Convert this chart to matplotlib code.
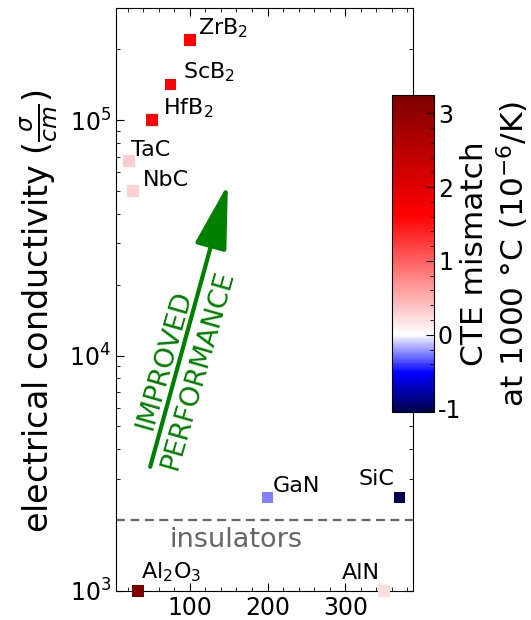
import numpy as np
import matplotlib
matplotlib.use("Agg")
import matplotlib.pyplot as plt
from matplotlib.colors import TwoSlopeNorm, ListedColormap, Normalize
from matplotlib.ticker import MultipleLocator

# materials: x value, electrical conductivity (S/cm), CTE mismatch at 1000 C
names = ["ZrB$_2$", "ScB$_2$", "HfB$_2$", "TaC", "NbC",
         "GaN", "SiC", "Al$_2$O$_3$", "AlN"]
xval = [100, 75, 51, 22, 27, 200, 370, 33, 350]
sigma = [2.2e5, 1.42e5, 1.0e5, 6.7e4, 5.0e4, 2.5e3, 2.5e3, 1.0e3, 1.0e3]
cte = [1.6, 1.6, 1.6, 0.32, 0.28, -0.26, -1.05, 3.24, 0.22]

insulator_limit = 2000

# label offsets in points (dx, dy) and alignment
offsets = [(6, 0), (9, 0), (8, 0), (1, 1), (7, 1), (4, 1), (-4, 6), (2, 5), (-3, 6)]
aligns = ["left"] * 9
aligns[6] = "right"
aligns[8] = "right"

plt.rcParams["font.family"] = "DejaVu Sans"
plt.rcParams["axes.unicode_minus"] = False

fig = plt.figure(figsize=(5.31, 6.2), dpi=100)
ax = fig.add_axes([0.2185, 0.0468, 0.559, 0.9403])

# seismic map with white pinned at zero, but a linear colour scale
vmin, vmax = min(cte), max(cte)
tsn = TwoSlopeNorm(vcenter=0, vmin=vmin, vmax=vmax)
cmap = ListedColormap(plt.cm.seismic(tsn(np.linspace(vmin, vmax, 256))))
norm = Normalize(vmin, vmax)

sc = ax.scatter(xval, sigma, c=cte, cmap=cmap, norm=norm, marker="s",
                s=70, linewidths=0, zorder=3, clip_on=False)

for i, name in enumerate(names):
    ax.annotate(name, (xval[i], sigma[i]), xytext=offsets[i],
                textcoords="offset points", ha=aligns[i], va="bottom",
                fontsize=16)

ax.axhline(insulator_limit, color="0.4", lw=1.6, dashes=(4, 2.5))
ax.text(160, 1650, "insulators", color="0.4", fontsize=19.5,
        ha="center", va="center")

# arrow + text
ax.annotate("", xy=(149, 5.35e4), xytext=(49, 3.37e3),
            arrowprops=dict(arrowstyle="-|>,head_length=2.0,head_width=0.5",
                            mutation_scale=20, lw=3, color="green",
                            shrinkA=0, shrinkB=0))
ax.text(89, 9.1e3, "IMPROVED\nPERFORMANCE", color="green", fontsize=19.5,
        rotation=74, rotation_mode="anchor", ha="center", va="center",
        linespacing=1.45)

ax.set_yscale("log")
ax.set_ylim(1e3, 3e5)
ax.set_xlim(5, 387)
ax.xaxis.set_major_locator(MultipleLocator(100))
ax.xaxis.set_minor_locator(MultipleLocator(20))
ax.tick_params(which="both", direction="in", top=True, right=True,
               labelsize=17)
ax.tick_params(which="major", length=6)
ax.tick_params(which="minor", length=3)
ax.set_ylabel(r"electrical conductivity ($\frac{\sigma}{cm}$)", fontsize=24)
ax.yaxis.set_label_coords(-0.19, 0.48)

cax = fig.add_axes([0.738, 0.335, 0.079, 0.511])
cb = fig.colorbar(sc, cax=cax)
cb.set_ticks([-1, 0, 1, 2, 3])
cb.ax.yaxis.set_minor_locator(MultipleLocator(0.2))
cb.ax.tick_params(which="both", direction="in", labelsize=17, pad=3)
cb.ax.tick_params(which="major", length=6)
cb.ax.tick_params(which="minor", length=3)
cb.set_label("CTE mismatch\nat 1000 °C (10$^{-6}$/K)", fontsize=22.5,
             labelpad=-1)

fig.savefig("out.png", dpi=100)
